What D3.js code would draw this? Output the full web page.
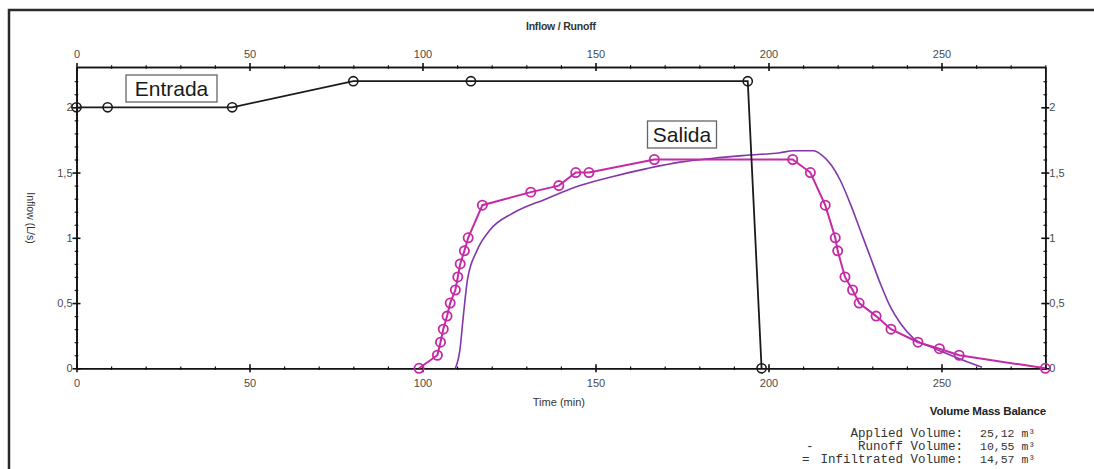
<!DOCTYPE html>
<html>
<head>
<meta charset="utf-8">
<script src="https://cdn.jsdelivr.net/npm/d3@7"></script>
<style>
  html, body { margin: 0; padding: 0; background: #fff; overflow: hidden; }
  svg { display: block; }
</style>
</head>
<body>
<svg id="chart" width="1094" height="469"></svg>
<script>
// Inflow hydrograph (Entrada): time in min, flow in L/s
const inflowTime = [0, 9, 45, 80, 114, 194, 198];
const inflowFlow = [2.0, 2.0, 2.0, 2.2, 2.2, 2.2, 0];

// Measured runoff (Salida)
const outflowTime = [99, 104.3, 105.2, 106, 107.1, 108, 109.5, 110.2, 110.9, 112.1, 113.2, 117.3, 131.3, 139.4, 144.3, 148.1, 167,
                     207, 212.1, 216.4, 219.3, 220, 222.1, 224.3, 226.2, 231.1, 235.4, 243.2, 249.4, 255.1, 280];
const outflowFlow = [0, 0.1, 0.2, 0.3, 0.4, 0.5, 0.6, 0.7, 0.8, 0.9, 1.0, 1.25, 1.35, 1.4, 1.5, 1.5, 1.6,
                     1.6, 1.5, 1.25, 1.0, 0.9, 0.7, 0.6, 0.5, 0.4, 0.3, 0.2, 0.15, 0.1, 0];

// Simulated runoff curve
const simTime = [109.5, 110.8, 111.8, 113, 115.7, 119.5, 126.2, 135.9, 145.5, 155.1, 164.8, 174.4, 184.1, 194.6, 203.3, 207.2, 212.9,
                 215.4, 217.8, 220.7, 223.6, 226.5, 229.4, 232.3, 235.2, 238.1, 241.9, 246.7, 252.5, 257.4, 261.7];
const simFlow = [0, 0.14, 0.4, 0.68, 0.9, 1.06, 1.19, 1.3, 1.4, 1.47, 1.53, 1.58, 1.61, 1.634, 1.652, 1.667, 1.667,
                 1.634, 1.57, 1.443, 1.264, 1.06, 0.855, 0.651, 0.472, 0.345, 0.23, 0.166, 0.102, 0.051, 0.008];

// Axis ticks
const xMajor = [0, 50, 100, 150, 200, 250];
const yMajor = [0, 0.5, 1, 1.5, 2];
const yMajorLabels = ["0", "0,5", "1", "1,5", "2"];

// Volume balance summary
const balanceOps = ["", "-", "="];
const balanceLabels = ["Applied Volume:", "Runoff Volume:", "Infiltrated Volume:"];
const balanceValues = ["25,12 m³", "10,55 m³", "14,57 m³"];

const svg = d3.select("#chart");
const L = 76.5, R = 1045.3, T = 67, B = 368.3;
const sans = "Liberation Sans, Arial, sans-serif";
const mono = "Liberation Mono, Courier New, monospace";

const x = d3.scaleLinear().domain([0, 280]).range([L, R]);
const y = d3.scaleLinear().domain([0, (B - T) / 130.5]).range([B, T]);

const xMinor = d3.range(0, 281, 10).filter(v => !xMajor.includes(v));
const yMinor = d3.range(0, 23).map(i => +(i * 0.1).toFixed(1)).filter(v => !yMajor.includes(v));

// outer frame
svg.append("rect").attr("x", 9).attr("y", 10).attr("width", 1100).attr("height", 500)
  .attr("fill", "none").attr("stroke", "#2b2b2b").attr("stroke-width", 2.5);

function styleAxis(g, crossDim, major) {
  g.select(".domain").attr("stroke", "#111").attr("stroke-width", 1.6);
  const len = major ? 4 : 1.8;
  g.selectAll(".tick line").attr("stroke", "#111").attr("stroke-width", major ? 1.6 : 1.2)
    .attr(crossDim + "1", -len).attr(crossDim + "2", len);
  g.selectAll(".tick text").attr("fill", "#4a4a4a")
    .attr("font-family", sans).attr("font-size", 11);
}

// bottom axis
const gb = svg.append("g").attr("transform", `translate(0,${B})`);
gb.call(d3.axisBottom(x).tickValues(xMinor).tickFormat("").tickSizeOuter(0)).call(g => styleAxis(g, "y", false));
const gb2 = svg.append("g").attr("transform", `translate(0,${B})`);
gb2.call(d3.axisBottom(x).tickValues(xMajor).tickFormat(d3.format("d")).tickSizeOuter(0)).call(g => styleAxis(g, "y", true));
gb2.selectAll(".tick text").attr("y", 11);

// top axis
const gt = svg.append("g").attr("transform", `translate(0,${T})`);
gt.call(d3.axisTop(x).tickValues(xMinor).tickFormat("").tickSizeOuter(0)).call(g => styleAxis(g, "y", false));
const gt2 = svg.append("g").attr("transform", `translate(0,${T})`);
gt2.call(d3.axisTop(x).tickValues(xMajor).tickFormat(d3.format("d")).tickSizeOuter(0)).call(g => styleAxis(g, "y", true));
gt2.selectAll(".tick text").attr("y", -9);

// left axis
const gl = svg.append("g").attr("transform", `translate(${L},0)`);
gl.call(d3.axisLeft(y).tickValues(yMinor).tickFormat("").tickSizeOuter(0)).call(g => styleAxis(g, "x", false));
const gl2 = svg.append("g").attr("transform", `translate(${L},0)`);
gl2.call(d3.axisLeft(y).tickValues(yMajor).tickFormat((d, i) => yMajorLabels[i]).tickSizeOuter(0)).call(g => styleAxis(g, "x", true));
gl2.selectAll(".tick text").attr("x", -4);

// right axis
const gr = svg.append("g").attr("transform", `translate(${R},0)`);
gr.call(d3.axisRight(y).tickValues(yMinor).tickFormat("").tickSizeOuter(0)).call(g => styleAxis(g, "x", false));
const gr2 = svg.append("g").attr("transform", `translate(${R},0)`);
gr2.call(d3.axisRight(y).tickValues(yMajor).tickFormat((d, i) => yMajorLabels[i]).tickSizeOuter(0)).call(g => styleAxis(g, "x", true));
gr2.selectAll(".tick text").attr("x", 4);

// axis titles
svg.append("text").attr("x", (L + R) / 2).attr("y", 30).attr("text-anchor", "middle")
  .attr("font-family", sans).attr("font-size", 10.5).attr("font-weight", "bold")
  .attr("fill", "#333").attr("letter-spacing", -0.2).text("Inflow / Runoff");
svg.append("text").attr("x", (L + R) / 2 - 2).attr("y", 406).attr("text-anchor", "middle")
  .attr("font-family", sans).attr("font-size", 11)
  .attr("fill", "#333").text("Time (min)");
svg.append("text").attr("transform", "translate(27,218) rotate(90)").attr("text-anchor", "middle")
  .attr("font-family", sans).attr("font-size", 10.5)
  .attr("fill", "#333").text("Inflow (L/s)");

// simulated runoff
const simPts = simTime.map((t, i) => [t, simFlow[i]]);
svg.append("path").datum(simPts)
  .attr("d", d3.line().x(d => x(d[0])).y(d => y(d[1])).curve(d3.curveMonotoneX))
  .attr("fill", "none").attr("stroke", "#8236aa").attr("stroke-width", 1.6);

// measured runoff
const outPts = outflowTime.map((t, i) => [t, outflowFlow[i]]);
svg.append("path").datum(outPts)
  .attr("d", d3.line().x(d => x(d[0])).y(d => y(d[1])))
  .attr("fill", "none").attr("stroke", "#c42aa6").attr("stroke-width", 2);
svg.selectAll("circle.out").data(outPts).join("circle").attr("class", "out")
  .attr("cx", d => x(d[0])).attr("cy", d => y(d[1])).attr("r", 4.6)
  .attr("fill", "none").attr("stroke", "#c42aa6").attr("stroke-width", 1.8);

// inflow
const inPts = inflowTime.map((t, i) => [t, inflowFlow[i]]);
svg.append("path").datum(inPts)
  .attr("d", d3.line().x(d => x(d[0])).y(d => y(d[1])))
  .attr("fill", "none").attr("stroke", "#1a1a1a").attr("stroke-width", 1.8);
svg.selectAll("circle.in").data(inPts).join("circle").attr("class", "in")
  .attr("cx", d => x(d[0])).attr("cy", d => y(d[1])).attr("r", 4.6)
  .attr("fill", "none").attr("stroke", "#1a1a1a").attr("stroke-width", 1.6);

// series labels in boxes
function boxLabel(txt, bx, by, bw, bh) {
  svg.append("rect").attr("x", bx).attr("y", by).attr("width", bw).attr("height", bh)
    .attr("fill", "#fff").attr("stroke", "#666").attr("stroke-width", 1.3);
  svg.append("text").attr("x", bx + bw / 2).attr("y", by + bh / 2 + 7.5).attr("text-anchor", "middle")
    .attr("font-family", sans).attr("font-size", 21)
    .attr("fill", "#1a1a1a").text(txt);
}
boxLabel("Entrada", 126, 75, 91, 27);
boxLabel("Salida", 647.5, 121, 69, 27);

// volume mass balance
svg.append("text").attr("x", 1046).attr("y", 415).attr("text-anchor", "end")
  .attr("font-family", sans).attr("font-size", 11.5).attr("font-weight", "bold")
  .attr("fill", "#222").attr("letter-spacing", -0.2).text("Volume Mass Balance");
const rowY = [437, 450, 463];
balanceLabels.forEach((lab, i) => {
  svg.append("text").attr("x", 963).attr("y", rowY[i]).attr("text-anchor", "end")
    .attr("font-family", mono).attr("font-size", 12.5)
    .attr("fill", "#333").text(lab);
  if (balanceOps[i]) {
    svg.append("text").attr("x", i === 1 ? 806 : 802).attr("y", rowY[i])
      .attr("font-family", mono).attr("font-size", 12.5).attr("fill", "#333").text(balanceOps[i]);
  }
  svg.append("text").attr("x", 980).attr("y", rowY[i])
    .attr("font-family", mono).attr("font-size", 11.5).attr("fill", "#333").text(balanceValues[i]);
});
</script>
</body>
</html>
